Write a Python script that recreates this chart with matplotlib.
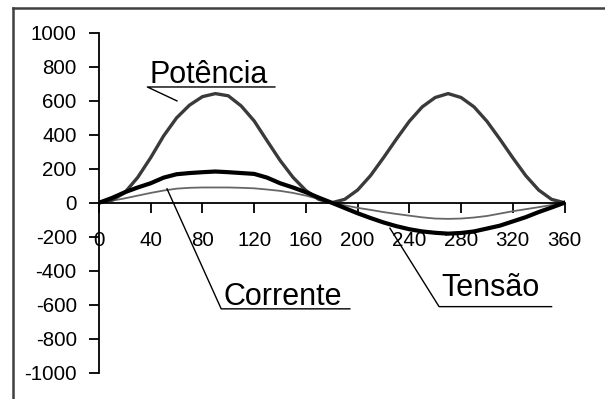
import matplotlib.pyplot as plt
from matplotlib.lines import Line2D

# angles in degrees
angle = list(range(0, 361, 10))

potencia = [0, 15, 60, 150, 266, 394, 500, 575, 625, 643, 630, 570, 482, 365, 250, 150, 72, 20, 0,
            20, 75, 160, 265, 375, 480, 565, 620, 643, 620, 565, 480, 375, 265, 160, 75, 20, 0]
tensao = [0, 28, 62, 90, 115, 148, 168, 175, 180, 184, 180, 175, 170, 148, 115, 90, 62, 30, 0,
          -31, -62, -90, -116, -138, -156, -169, -177, -182, -178, -169, -152, -135, -110, -85, -55, -28, 0]
corrente = [0, 12, 26, 42, 58, 72, 83, 88, 90, 90, 90, 88, 85, 78, 70, 58, 42, 22, 0,
            -15, -30, -42, -55, -66, -76, -86, -93, -95, -93, -87, -78, -64, -50, -38, -26, -13, 0]

xticks = list(range(0, 361, 40))
yticks = list(range(-1000, 1001, 200))

plt.rcParams['font.family'] = ['Liberation Sans', 'DejaVu Sans']
plt.rcParams['axes.unicode_minus'] = False

fig = plt.figure(figsize=(6.05, 3.99), dpi=100)
ax = fig.add_axes([99 / 605, 1 - 372.5 / 399, (564.5 - 99) / 605, (372.5 - 33) / 399])

ax.plot(angle, corrente, color='#666666', lw=1.3)
ax.plot(angle, potencia, color='#3a3a3a', lw=2.4)
ax.plot(angle, tensao, color='black', lw=3.0)

ax.set_xlim(0, 360)
ax.set_ylim(-1000, 1000)
ax.set_xticks(xticks)
ax.set_yticks(yticks)

for s in ['top', 'right']:
    ax.spines[s].set_visible(False)
ax.spines['bottom'].set_position(('data', 0))
ax.spines['left'].set_linewidth(1.3)
ax.spines['bottom'].set_linewidth(1.3)
ax.tick_params(axis='y', direction='out', length=7, width=1.3, pad=9, labelsize=14.8)
ax.tick_params(axis='x', direction='out', length=7, width=1.3, pad=13, labelsize=14.8)

# callout labels: text, underline and leader line
labels = [
    ('Potência', 39.4, 706, 136, 682, 60.3, 600),
    ('Corrente', 96.5, -600, 194, -625, 52.6, 82),
    ('Tensão', 265, -547, 350, -612, 225, -150),
]
for name, tx, ty, ux2, uy, px, py in labels:
    ax.text(tx, ty, name, fontsize=22, ha='left', va='baseline')
    ax.plot([px, tx - 2, ux2], [py, uy, uy], color='black', lw=1.0, clip_on=False)

# chart area border (cropped on right and bottom)
fig.add_artist(Line2D([13 / 605, 13 / 605], [-0.05, 1 - 8 / 399], color='#404040', lw=1.8))
fig.add_artist(Line2D([13 / 605, 1.05], [1 - 8 / 399, 1 - 8 / 399], color='#404040', lw=1.8))

fig.savefig('out.png', dpi=100)
